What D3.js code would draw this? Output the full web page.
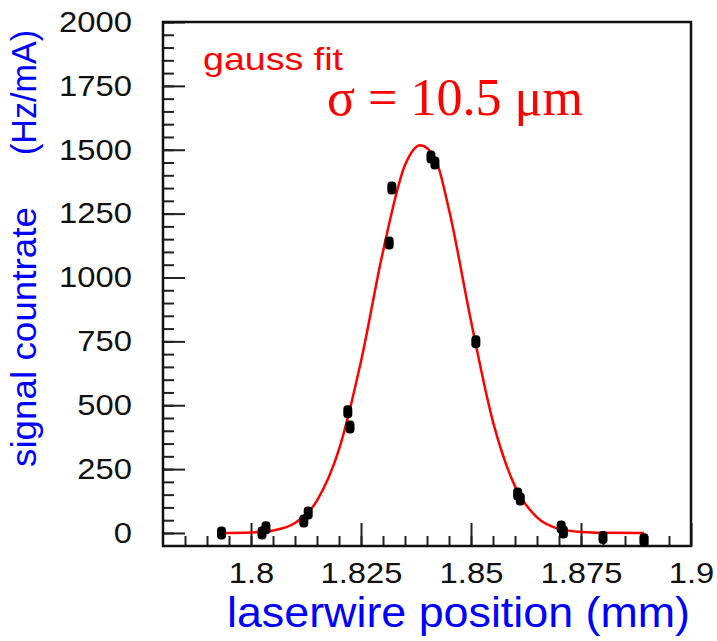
<!DOCTYPE html>
<html>
<head>
<meta charset="utf-8">
<script src="https://cdn.jsdelivr.net/npm/d3@7"></script>
<style>
  body { margin: 0; background: #fff; }
  svg { display: block; }
  text { font-family: "Liberation Sans", Arial, sans-serif; }
</style>
</head>
<body>
<script>
// measured points (two readings at most positions)
const posX = [1.7933, 1.8025, 1.8034, 1.812, 1.813, 1.822, 1.8225, 1.8314, 1.832,
              1.8409, 1.8418, 1.8511, 1.8606, 1.8612, 1.8705, 1.871, 1.88, 1.8893];
const rate = [0, 0, 20, 47, 78, 474, 415, 1135, 1350,
              1472, 1448, 748, 153, 133, 23, 4, -18, -27];

// gauss fit curve
const fitX = [1.7933, 1.80, 1.805, 1.81, 1.815, 1.82, 1.825, 1.83, 1.835, 1.8385,
              1.842, 1.845, 1.85, 1.855, 1.86, 1.865, 1.87, 1.875, 1.88, 1.8893];
const fitY = [0, 2, 10, 39, 127, 327, 672, 1102, 1440, 1518,
              1460, 1265, 830, 435, 183, 61, 16, 4, 1, 0];

const yTicks = [0, 250, 500, 750, 1000, 1250, 1500, 1750, 2000];
const xTicks = [1.8, 1.825, 1.85, 1.875, 1.9];
const xTickLabels = ["1.8", "1.825", "1.85", "1.875", "1.9"];

const width = 717, height = 641;
const plotL = 163, plotR = 691, plotT = 22, plotB = 546;
const stretch = 1.13; // tick labels in the original are a bit wide

const svg = d3.select("body").append("svg")
    .attr("width", width)
    .attr("height", height);

const xScale = d3.scaleLinear()
    .domain([1.78, 1.9])
    .range([plotL, plotR]);

const yScale = d3.scaleLinear()
    .domain([-51, 2000])
    .range([plotB, plotT]);

// minor ticks
const yMinor = d3.axisLeft(yScale)
    .tickValues(d3.range(0, 2001, 50))
    .tickSizeInner(-11).tickSizeOuter(0)
    .tickFormat("");
svg.append("g")
    .attr("transform", "translate(" + plotL + ",0)")
    .call(yMinor);

const xMinor = d3.axisBottom(xScale)
    .tickValues(d3.range(1.785, 1.9, 0.005))
    .tickSizeInner(-10).tickSizeOuter(0)
    .tickFormat("");
svg.append("g")
    .attr("transform", "translate(0," + plotB + ")")
    .call(xMinor);

// major ticks + labels
const yAxis = d3.axisLeft(yScale)
    .tickValues(yTicks)
    .tickSizeInner(-22).tickSizeOuter(0)
    .tickPadding(31)
    .tickFormat(d3.format("d"));
const gy = svg.append("g")
    .attr("transform", "translate(" + plotL + ",0)")
    .call(yAxis);

const xAxis = d3.axisBottom(xScale)
    .tickValues(xTicks)
    .tickSizeInner(-23).tickSizeOuter(0)
    .tickPadding(16)
    .tickFormat((d, i) => xTickLabels[i]);
const gx = svg.append("g")
    .attr("transform", "translate(0," + plotB + ")")
    .call(xAxis);

svg.selectAll(".tick line")
    .attr("stroke", "#222")
    .attr("stroke-width", 2);
svg.selectAll(".domain").remove();

gy.selectAll("text")
    .attr("x", -31 / stretch)
    .attr("transform", "scale(" + stretch + ",1)")
    .style("font-size", "29px")
    .attr("fill", "#111");
gx.selectAll("text")
    .attr("transform", "scale(" + stretch + ",1)")
    .style("font-size", "29px")
    .attr("fill", "#111");

// frame
svg.append("rect")
    .attr("x", plotL).attr("y", plotT)
    .attr("width", plotR - plotL).attr("height", plotB - plotT)
    .attr("fill", "none")
    .attr("stroke", "#111")
    .attr("stroke-width", 2.5);

// fit curve
const line = d3.line()
    .x((d, i) => xScale(fitX[i]))
    .y(d => yScale(d))
    .curve(d3.curveMonotoneX);
svg.append("path")
    .datum(fitY)
    .attr("d", line)
    .attr("fill", "none")
    .attr("stroke", "#ff0000")
    .attr("stroke-width", 2.5);

// points
svg.selectAll(".pt")
    .data(rate)
    .enter()
    .append("rect")
    .attr("class", "pt")
    .attr("x", (d, i) => xScale(posX[i]) - 4.5)
    .attr("y", d => yScale(d) - 6.5)
    .attr("width", 9)
    .attr("height", 13)
    .attr("rx", 4)
    .attr("fill", "#000");

// annotations
svg.append("text")
    .attr("x", 203).attr("y", 70)
    .attr("textLength", 140)
    .attr("lengthAdjust", "spacingAndGlyphs")
    .style("font-size", "32px")
    .attr("fill", "#ff0000")
    .text("gauss fit");

svg.append("text")
    .attr("x", 327).attr("y", 115)
    .attr("textLength", 256)
    .attr("lengthAdjust", "spacingAndGlyphs")
    .style("font-family", "'Liberation Serif', 'Times New Roman', serif")
    .style("font-size", "52px")
    .attr("fill", "#ff0000")
    .text("σ = 10.5 μm");

// axis titles
svg.append("text")
    .attr("x", 227).attr("y", 627)
    .attr("textLength", 463)
    .attr("lengthAdjust", "spacingAndGlyphs")
    .style("font-size", "42px")
    .attr("fill", "#0000ff")
    .text("laserwire position (mm)");

svg.append("text")
    .attr("transform", "translate(36,467) rotate(-90)")
    .attr("textLength", 260)
    .attr("lengthAdjust", "spacingAndGlyphs")
    .style("font-size", "35px")
    .attr("fill", "#0000ff")
    .text("signal countrate");

svg.append("text")
    .attr("transform", "translate(36,155) rotate(-90)")
    .attr("textLength", 125)
    .attr("lengthAdjust", "spacingAndGlyphs")
    .style("font-size", "35px")
    .attr("fill", "#0000ff")
    .text("(Hz/mA)");
</script>
</body>
</html>
